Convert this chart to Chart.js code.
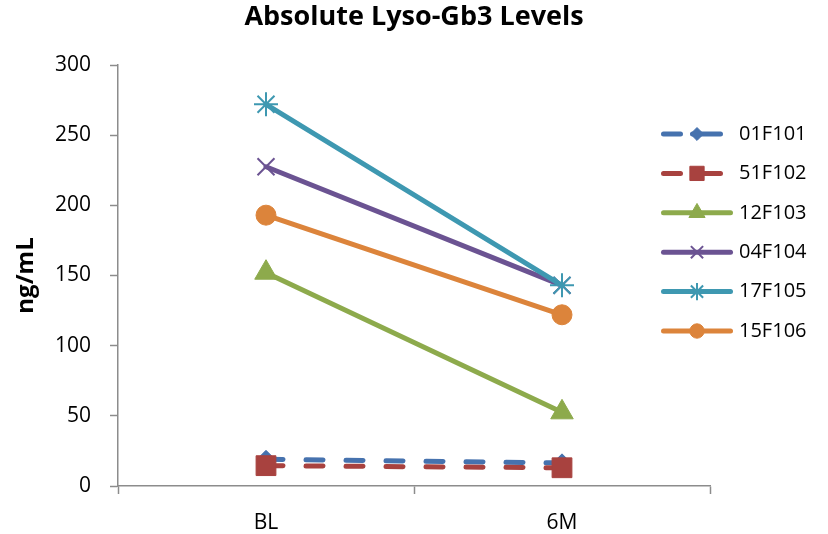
<!DOCTYPE html>
<html>
<head>
<meta charset="utf-8">
<script src="https://cdn.jsdelivr.net/npm/chart.js@4"></script>
<style>
  html, body { margin: 0; padding: 0; background: #ffffff; }
  #wrap { width: 828px; height: 534px; }
</style>
</head>
<body>
<div id="wrap"><canvas id="c" width="828" height="534"></canvas></div>
<script>
// Timepoints and patient series (ng/mL)
const categories = ['BL', '6M'];
const seriesNames = ['01F101', '51F102', '12F103', '04F104', '17F105', '15F106'];
const s01F101 = [19, 16.5];
const s51F102 = [14.5, 13];
const s12F103 = [152, 52.5];
const s04F104 = [227.5, 143];
const s17F105 = [272, 143];
const s15F106 = [193, 122];
const seriesValues = [s01F101, s51F102, s12F103, s04F104, s17F105, s15F106];
const yTicks = [0, 50, 100, 150, 200, 250, 300];

const FONT = "'Open Sans', 'Liberation Sans', sans-serif";
const colors = ['#4672AE', '#A8423F', '#8DAA4C', '#6B5392', '#3E98B1', '#DC843B'];
const styles = ['rectRot', 'rect', 'triangle', 'crossRot', 'star', 'circle'];
const radii = [9, 14, 13, 12, 12, 10];
const dashed = [true, true, false, false, false, false];
const axisGray = '#8C8C8C';

const datasets = seriesNames.map((name, i) => ({
  label: name,
  data: seriesValues[i],
  borderColor: colors[i],
  backgroundColor: colors[i],
  borderWidth: 5,
  borderCapStyle: 'round',
  borderDash: dashed[i] ? [17, 23] : [],
  pointStyle: styles[i],
  pointRadius: radii[i],
  pointHoverRadius: radii[i],
  pointBorderWidth: (styles[i] === 'crossRot' || styles[i] === 'star') ? 2 : 1,
  pointBackgroundColor: colors[i],
  pointBorderColor: colors[i],
  tension: 0,
  yAxisID: 'y',
  order: seriesNames.length - i
}));

// Legend at the right: line sample with a smaller series marker, then the name
const sideLegend = {
  id: 'sideLegend',
  afterDraw(chart) {
    const ctx = chart.ctx;
    const area = chart.chartArea;
    const x0 = area.right - 49, x1 = area.right + 23;
    const xm = (x0 + x1) / 2;
    const top = 134, step = 39.4;
    ctx.save();
    chart.data.datasets.forEach((ds, i) => {
      const y = top + i * step;
      ctx.strokeStyle = ds.borderColor;
      ctx.lineWidth = 5;
      ctx.lineCap = 'round';
      ctx.beginPath();
      if (dashed[i]) {
        ctx.moveTo(x0 + 2.5, y); ctx.lineTo(x0 + 19.5, y);
        ctx.moveTo(x0 + 31.5, y); ctx.lineTo(x1 - 12.5, y);
      } else {
        ctx.moveTo(x0 + 2.5, y); ctx.lineTo(x1 - 2.5, y);
      }
      ctx.stroke();
      ctx.fillStyle = ds.pointBackgroundColor;
      ctx.strokeStyle = ds.pointBorderColor;
      ctx.lineWidth = ds.pointBorderWidth;
      ctx.lineCap = 'butt';
      Chart.helpers.drawPoint(ctx, { pointStyle: ds.pointStyle, radius: ds.pointRadius * 0.72, rotation: 0, borderWidth: ds.pointBorderWidth }, xm, y);
      ctx.fillStyle = '#000000';
      ctx.font = '20px ' + FONT;
      ctx.textAlign = 'left';
      ctx.textBaseline = 'middle';
      ctx.fillText(ds.label, x1 + 6, y);
    });
    ctx.restore();
  }
};

new Chart(document.getElementById('c'), {
  type: 'line',
  data: { labels: categories, datasets },
  plugins: [sideLegend],
  options: {
    responsive: false,
    animation: false,
    events: [],
    layout: { padding: 0 },
    plugins: {
      legend: { display: false },
      tooltip: { enabled: false },
      title: {
        display: true,
        text: 'Absolute Lyso-Gb3 Levels',
        color: '#000000',
        font: { family: FONT, size: 27, weight: 'bold' },
        padding: { top: 1, bottom: 31.6 }
      }
    },
    scales: {
      x: {
        type: 'category',
        offset: true,
        grid: { display: true, drawOnChartArea: false, offset: true, tickLength: 8, color: axisGray, tickWidth: 1.5 },
        border: { display: true, color: axisGray, width: 1.5 },
        ticks: { color: '#000000', font: { family: FONT, size: 21 }, padding: 16 },
        afterFit(scale) { scale.height = 48; }
      },
      y: {
        min: 0,
        max: 300,
        afterBuildTicks(scale) { scale.ticks = yTicks.map(v => ({ value: v })); },
        grid: { display: true, drawOnChartArea: false, tickLength: 8, color: axisGray, tickWidth: 1.5 },
        border: { display: true, color: axisGray, width: 1.5 },
        ticks: { color: '#000000', font: { family: FONT, size: 21 }, padding: 19 },
        title: {
          display: true,
          text: 'ng/mL',
          color: '#000000',
          font: { family: FONT, size: 24, weight: 'bold' },
          padding: { top: 11.6, bottom: 0 }
        },
        afterFit(scale) { scale.width = 118; }
      },
      // empty right-hand band that holds the legend
      legendBand: {
        type: 'linear',
        position: 'right',
        min: 0,
        max: 1,
        grid: { display: false },
        border: { display: false },
        ticks: { display: false },
        afterFit(scale) { scale.width = 118; }
      }
    }
  }
});
</script>
</body>
</html>
